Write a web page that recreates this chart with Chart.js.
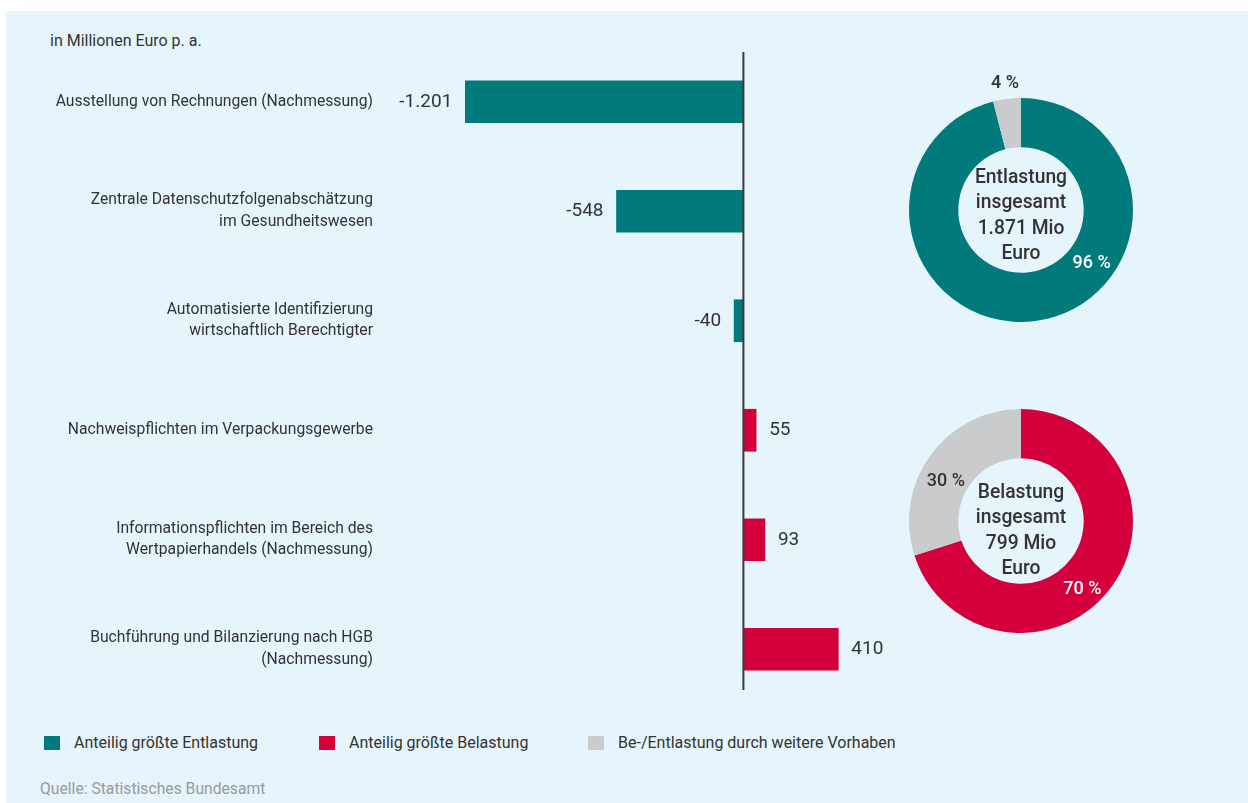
<!DOCTYPE html>
<html lang="de">
<head>
<meta charset="utf-8">
<script src="https://cdn.jsdelivr.net/npm/chart.js@4"></script>
<style>
html,body{margin:0;padding:0;background:#ffffff;}
body{width:1248px;height:803px;position:relative;overflow:hidden;font-family:Roboto,"Noto Sans",sans-serif;color:#333;}
#panel{position:absolute;left:6px;top:11px;right:0;bottom:0;background:#e6f4fc;}
canvas{position:absolute;}
#unit{position:absolute;left:50px;top:31px;font-size:16px;line-height:20px;color:#333;}
.leg{position:absolute;top:733px;font-size:16px;line-height:20px;color:#333;white-space:nowrap;}
.leg i{position:absolute;left:-30px;top:3px;width:16px;height:14px;display:block;}
#src{position:absolute;left:40px;top:779px;font-size:15.7px;line-height:20px;color:#9a9a9a;}
</style>
</head>
<body>
<div id="panel"></div>
<div id="unit">in Millionen Euro p. a.</div>
<canvas id="bars" width="910" height="720" style="left:0;top:0"></canvas>
<canvas id="donutE" width="300" height="300" style="left:871px;top:60px"></canvas>
<canvas id="donutB" width="300" height="300" style="left:871px;top:371px"></canvas>
<div class="leg" style="left:74px"><i style="background:#007a7b"></i>Anteilig größte Entlastung</div>
<div class="leg" style="left:349px"><i style="background:#d4003b"></i>Anteilig größte Belastung</div>
<div class="leg" style="left:618px"><i style="background:#c9cbcc"></i>Be-/Entlastung durch weitere Vorhaben</div>
<div id="src">Quelle: Statistisches Bundesamt</div>
<script>
// ---- data ----
const categories = [
  ["Ausstellung von Rechnungen (Nachmessung)"],
  ["Zentrale Datenschutzfolgenabschätzung", "im Gesundheitswesen"],
  ["Automatisierte Identifizierung", "wirtschaftlich Berechtigter"],
  ["Nachweispflichten im Verpackungsgewerbe"],
  ["Informationspflichten im Bereich des", "Wertpapierhandels (Nachmessung)"],
  ["Buchführung und Bilanzierung nach HGB", "(Nachmessung)"]
];
const values = [-1201, -548, -40, 55, 93, 410];

const entlastungLabels = ["Anteilig größte Entlastung", "Be-/Entlastung durch weitere Vorhaben"];
const entlastungShares = [96, 4];
const entlastungCenter = ["Entlastung", "insgesamt", "1.871 Mio", "Euro"];

const belastungLabels = ["Anteilig größte Belastung", "Be-/Entlastung durch weitere Vorhaben"];
const belastungShares = [70, 30];
const belastungCenter = ["Belastung", "insgesamt", "799 Mio", "Euro"];

// ---- styles ----
const TEAL = "#007a7b", RED = "#d4003b", GREY = "#c9cbcc", TEXT = "#333333";
const FONT = 'Roboto, "Noto Sans", sans-serif';

function fmtDE(v) {
  const s = Math.abs(v).toString().replace(/\B(?=(\d{3})+(?!\d))/g, ".");
  return (v < 0 ? "-" : "") + s;
}

const barExtras = {
  id: "barExtras",
  afterDatasetsDraw(chart) {
    const ctx = chart.ctx;
    const xs = chart.scales.x;
    const area = chart.chartArea;
    const x0 = xs.getPixelForValue(0);
    ctx.save();
    // zero line
    ctx.strokeStyle = "#3a3a3a";
    ctx.lineWidth = 2;
    ctx.beginPath();
    ctx.moveTo(x0, area.top + 5);
    ctx.lineTo(x0, area.bottom - 14);
    ctx.stroke();
    // value labels
    ctx.font = "19px " + FONT;
    ctx.fillStyle = TEXT;
    ctx.textBaseline = "middle";
    const meta = chart.getDatasetMeta(0);
    meta.data.forEach((el, i) => {
      const v = chart.data.datasets[0].data[i];
      if (v < 0) { ctx.textAlign = "right"; ctx.fillText(fmtDE(v), el.x - 13, el.y); }
      else { ctx.textAlign = "left"; ctx.fillText(fmtDE(v), el.x + 13, el.y); }
    });
    ctx.restore();
  }
};

new Chart(document.getElementById("bars"), {
  type: "bar",
  data: {
    labels: categories,
    datasets: [{
      data: values,
      backgroundColor: values.map(v => v < 0 ? TEAL : RED),
      borderWidth: 0,
      barThickness: 42
    }]
  },
  options: {
    indexAxis: "y",
    responsive: false,
    animation: false,
    layout: { padding: { top: 47, bottom: 16, left: 0, right: 30 } },
    plugins: { legend: { display: false }, tooltip: { enabled: false } },
    scales: {
      x: {
        display: false,
        min: -1440,
        max: 590
      },
      y: {
        grid: { display: false, drawTicks: false },
        border: { display: false },
        afterFit(scale) {
          scale.width = 410;
          scale.paddingTop = 0;
          scale.paddingBottom = 0;
        },
        ticks: {
          padding: 37,
          color: TEXT,
          font: { family: FONT, size: 15.7, lineHeight: 1.37 }
        }
      }
    }
  },
  plugins: [barExtras]
});

const donutExtras = {
  id: "donutExtras",
  afterDatasetsDraw(chart, args, opts) {
    const ctx = chart.ctx;
    const meta = chart.getDatasetMeta(0);
    const arc0 = meta.data[0];
    const cx = arc0.x, cy = arc0.y, R = arc0.outerRadius;
    ctx.save();
    // percentage labels
    ctx.font = "500 18px " + FONT;
    ctx.textAlign = "center";
    ctx.textBaseline = "middle";
    meta.data.forEach((arc, i) => {
      let ang;
      if (opts.angles[i] === null) {
        ang = (arc.startAngle + arc.endAngle) / 2;
      } else {
        ang = opts.angles[i] * Math.PI / 180 - Math.PI / 2;
      }
      const r = R * opts.radii[i];
      ctx.fillStyle = opts.colors[i];
      ctx.fillText(chart.data.datasets[0].data[i] + " %", cx + Math.cos(ang) * r, cy + Math.sin(ang) * r);
    });
    // center text
    ctx.font = "500 19.3px " + FONT;
    ctx.fillStyle = TEXT;
    const lines = opts.center;
    const lh = 25.5;
    const startY = cy + opts.centerOffset - lh * (lines.length - 1) / 2;
    lines.forEach((t, k) => ctx.fillText(t, cx, startY + k * lh));
    ctx.restore();
  }
};

function makeDonut(id, labels, shares, colors, labelOpts) {
  new Chart(document.getElementById(id), {
    type: "doughnut",
    data: {
      labels: labels,
      datasets: [{ data: shares, backgroundColor: colors, borderWidth: 0 }]
    },
    options: {
      responsive: false,
      animation: false,
      cutout: "56%",
      layout: { padding: 38 },
      plugins: {
        legend: { display: false },
        tooltip: { enabled: false },
        donutExtras: labelOpts
      }
    },
    plugins: [donutExtras]
  });
}

makeDonut("donutE", entlastungLabels, entlastungShares, [TEAL, GREY], {
  angles: [127, null], radii: [0.79, 1.14], colors: ["#ffffff", TEXT],
  center: entlastungCenter, centerOffset: 6
});
makeDonut("donutB", belastungLabels, belastungShares, [RED, GREY], {
  angles: [138, 298], radii: [0.82, 0.76], colors: ["#ffffff", TEXT],
  center: belastungCenter, centerOffset: 10
});
</script>
</body>
</html>
